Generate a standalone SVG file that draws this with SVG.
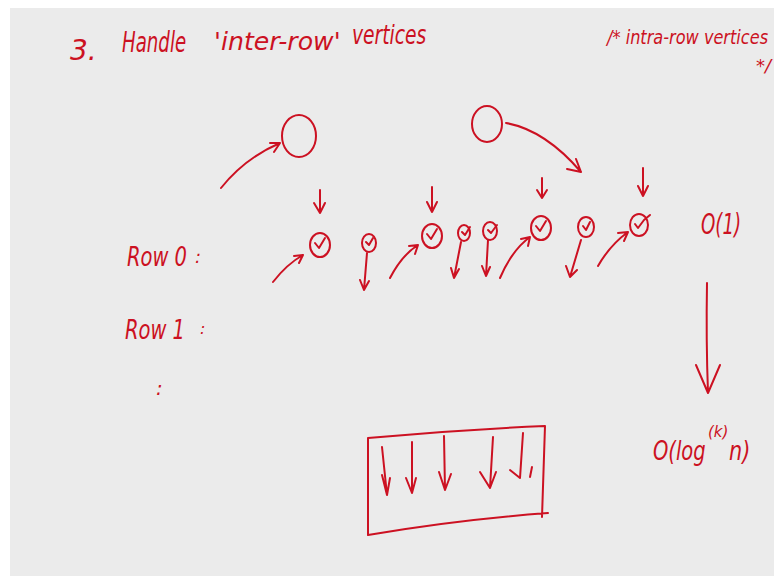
<svg xmlns="http://www.w3.org/2000/svg" width="774" height="583" viewBox="0 0 774 583">
  <style>
    .ink { fill: none; stroke: #cc1122; stroke-width: 2; stroke-linecap: round; stroke-linejoin: round; }
    .txt { fill: #cc1122; font-family: "DejaVu Sans", "Liberation Sans", sans-serif; font-style: italic; }
  </style>
  <rect x="0" y="0" width="774" height="583" fill="#ffffff"/>
  <rect x="10" y="8" width="764" height="568" fill="#ebebeb"/>

  <!-- heading (narrowed with horizontal scale) -->
  <g id="heading">
    <text class="txt" x="70" y="60" font-size="28">3.</text>
    <text class="txt" transform="translate(122,52) scale(0.65,1)" font-size="28">Handle</text>
    <text class="txt" transform="translate(214,50) scale(1.05,1)" font-size="24">'inter-row'</text>
    <text class="txt" transform="translate(352,44) scale(0.72,1)" font-size="26">vertices</text>
  </g>
  <g id="note">
    <text class="txt" transform="translate(607,44) scale(0.85,1)" font-size="19">/* intra-row vertices</text>
    <text class="txt" x="756" y="72" font-size="18">*/</text>
  </g>

  <!-- row labels -->
  <g id="row-labels">
    <text class="txt" transform="translate(127,266) scale(0.75,1)" font-size="26">Row 0</text>
    <text class="txt" x="195" y="263" font-size="18">:</text>
    <text class="txt" transform="translate(125,339) scale(0.75,1)" font-size="26">Row 1</text>
    <text class="txt" x="200" y="334" font-size="16">:</text>
    <text class="txt" x="156" y="395" font-size="20">:</text>
  </g>

  <!-- upper vertices -->
  <g id="vertex-a"><ellipse class="ink" cx="299" cy="136" rx="17" ry="21"/></g>
  <g id="vertex-b"><ellipse class="ink" cx="487" cy="124" rx="15" ry="18"/></g>

  <!-- row 0 vertices, each checked -->
  <g id="v1"><ellipse class="ink" cx="320" cy="245" rx="10" ry="12"/><path class="ink" d="M315 243 L319 248 L325 238"/></g>
  <g id="v2"><ellipse class="ink" cx="369" cy="243" rx="7" ry="9"/><path class="ink" d="M366 242 L369 245 L373 238"/></g>
  <g id="v3"><ellipse class="ink" cx="432" cy="236" rx="10" ry="12"/><path class="ink" d="M427 234 L431 239 L437 229"/></g>
  <g id="v4"><ellipse class="ink" cx="464" cy="233" rx="6" ry="8"/><path class="ink" d="M462 232 L465 235 L470 227"/></g>
  <g id="v5"><ellipse class="ink" cx="490" cy="231" rx="7" ry="9"/><path class="ink" d="M488 230 L491 233 L497 225"/></g>
  <g id="v6"><ellipse class="ink" cx="541" cy="228" rx="10" ry="12"/><path class="ink" d="M536 226 L540 231 L546 221"/></g>
  <g id="v7"><ellipse class="ink" cx="586" cy="227" rx="8" ry="10"/><path class="ink" d="M583 226 L586 230 L590 222"/></g>
  <g id="v8"><ellipse class="ink" cx="639" cy="225" rx="9" ry="11"/><path class="ink" d="M635 224 L638 228 L644 220 L650 215"/></g>

  <!-- cost labels -->
  <g id="cost-const">
    <text class="txt" transform="translate(701,234) scale(0.65,1)" font-size="28">O(1)</text>
  </g>
  <g id="cost-log">
    <text class="txt" transform="translate(653,460) scale(0.75,1)" font-size="26">O(log</text>
    <text class="txt" x="708" y="437" font-size="15">(k)</text>
    <text class="txt" transform="translate(729,460) scale(0.8,1)" font-size="26">n)</text>
  </g>

  <!-- bulk box of parallel steps -->
  <g id="bulk-box">
    <path class="ink" d="M368 438 Q455 430 545 426 M545 426 L542 517 M368 438 L368 535 M368 535 Q455 520 548 513"/>
    <path class="ink" d="M382 447 L387 495 M382 475 L387 495 L390 478"/>
    <path class="ink" d="M412 442 L412 493 M406 478 L412 493 L416 478"/>
    <path class="ink" d="M444 436 L445 490 M439 472 L445 490 L451 474"/>
    <path class="ink" d="M493 437 L490 488 M480 472 L490 488 L496 472"/>
    <path class="ink" d="M523 433 L520 478 M510 470 L520 478 M532 467 L530 477"/>
  </g>

  <!-- connectors -->
  <g id="connectors">
    <path class="ink" d="M221 188 Q245 158 280 143 M270 143 L280 143 L274 152"/>
    <path class="ink" d="M506 123 Q545 130 581 172 M567 169 L581 172 L576 159"/>
    <path class="ink" d="M320 190 L320 213 M314 203 L320 213 L325 203"/>
    <path class="ink" d="M432 187 L432 212 M427 202 L432 212 L437 202"/>
    <path class="ink" d="M542 178 L542 198 M537 190 L542 198 L547 190"/>
    <path class="ink" d="M643 168 L643 196 M638 186 L643 196 L648 186"/>
    <path class="ink" d="M273 282 Q287 264 303 255 M294 256 L303 255 L299 263"/>
    <path class="ink" d="M390 278 Q402 255 418 245 M409 246 L418 245 L415 254"/>
    <path class="ink" d="M500 278 Q512 250 530 237 M521 239 L530 237 L528 246"/>
    <path class="ink" d="M598 266 Q610 245 628 232 M618 233 L628 232 L624 241"/>
    <path class="ink" d="M367 253 L364 290 M360 280 L364 290 L369 281"/>
    <path class="ink" d="M461 242 L454 278 M451 268 L454 278 L459 269"/>
    <path class="ink" d="M488 240 L486 276 M482 266 L486 276 L490 267"/>
    <path class="ink" d="M581 240 L570 277 M566 266 L570 277 L577 270"/>
    <path class="ink" d="M707 283 Q706 340 708 393 M696 365 L708 393 L720 365"/>
  </g>
</svg>
